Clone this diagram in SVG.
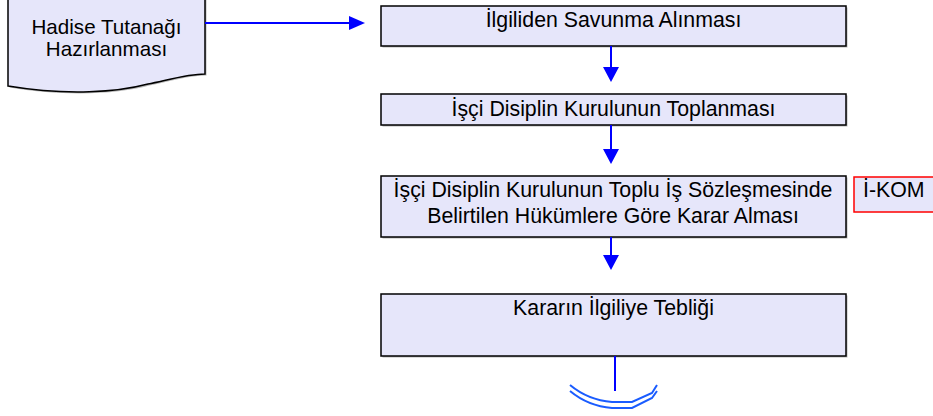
<svg xmlns="http://www.w3.org/2000/svg" width="933" height="416" viewBox="0 0 933 416">
<style>
.box{fill:#e6e6fa;stroke:#000;stroke-width:1.5}
.shadow{fill:#b8b8b8}
.t{font-family:"Liberation Sans",Arial,sans-serif;font-size:21.3px;fill:#000;text-anchor:middle}
.c{stroke:#0000ff;stroke-width:2;fill:none}
.h{fill:#0000ff}
</style>
<rect width="933" height="416" fill="#fff"/>
<g id="n0">
<path class="shadow" d="M9.5,-2 H206.5 V75.5 C189.5,75.5 169.5,81.5 149.5,85.5 C119.5,93.5 69.5,97.5 9.5,87.5 Z"/>
<path class="box" d="M8,-4 H205 V74 C188,74 168,80 148,84 C118,92 68,96 8,86 Z"/>
<text class="t" x="106.5" y="33.5" style="font-size:20.6px">Hadise Tutanağı</text>
<text class="t" x="106.5" y="56" style="font-size:20.6px">Hazırlanması</text>
</g>
<g id="n1">
<rect class="shadow" x="382.5" y="7.5" width="465" height="40"/>
<rect class="box" x="381" y="6" width="465" height="40"/>
<text class="t" x="613.5" y="27">İlgiliden Savunma Alınması</text>
</g>
<g id="n2">
<rect class="shadow" x="382.5" y="95.5" width="465" height="31"/>
<rect class="box" x="381" y="94" width="465" height="31"/>
<text class="t" x="613.5" y="116">İşçi Disiplin Kurulunun Toplanması</text>
</g>
<g id="n3">
<rect class="shadow" x="382.5" y="177.5" width="465" height="61"/>
<rect class="box" x="381" y="176" width="465" height="61"/>
<text class="t" x="613" y="197">İşçi Disiplin Kurulunun Toplu İş Sözleşmesinde</text>
<text class="t" x="613" y="223">Belirtilen Hükümlere Göre Karar Alması</text>
</g>
<g id="n4">
<rect x="854" y="177" width="90" height="35" fill="#e6e6fa" stroke="#ff0000" stroke-width="1.5"/>
<text class="t" x="863" y="197" style="text-anchor:start">İ-KOM</text>
</g>
<g id="n5">
<rect class="shadow" x="382.5" y="295.5" width="465" height="62"/>
<rect class="box" x="381" y="294" width="465" height="62"/>
<text class="t" x="613.5" y="315">Kararın İlgiliye Tebliği</text>
</g>
<g id="n6">
<path d="M570,385 Q588,400 612,402 L632,402 L652,393 L657,385" fill="none" stroke="#1a5cff" stroke-width="2"/>
<path d="M570,391 Q588,406 612,408 L632,408 L652,398 L657,391" fill="none" stroke="#1a5cff" stroke-width="2"/>
</g>
<g id="connectors">
<line class="c" x1="205" y1="23" x2="351" y2="23"/>
<polygon class="h" points="349,16 365,23 349,30"/>
<line class="c" x1="611" y1="46" x2="611" y2="68"/>
<polygon class="h" points="603,67 619,67 611,82"/>
<line class="c" x1="611" y1="125" x2="611" y2="150"/>
<polygon class="h" points="603,149 619,149 611,164"/>
<line class="c" x1="611" y1="237" x2="611" y2="256"/>
<polygon class="h" points="603,255 619,255 611,270"/>
<line class="c" x1="615" y1="356" x2="615" y2="391"/>
</g>
</svg>
